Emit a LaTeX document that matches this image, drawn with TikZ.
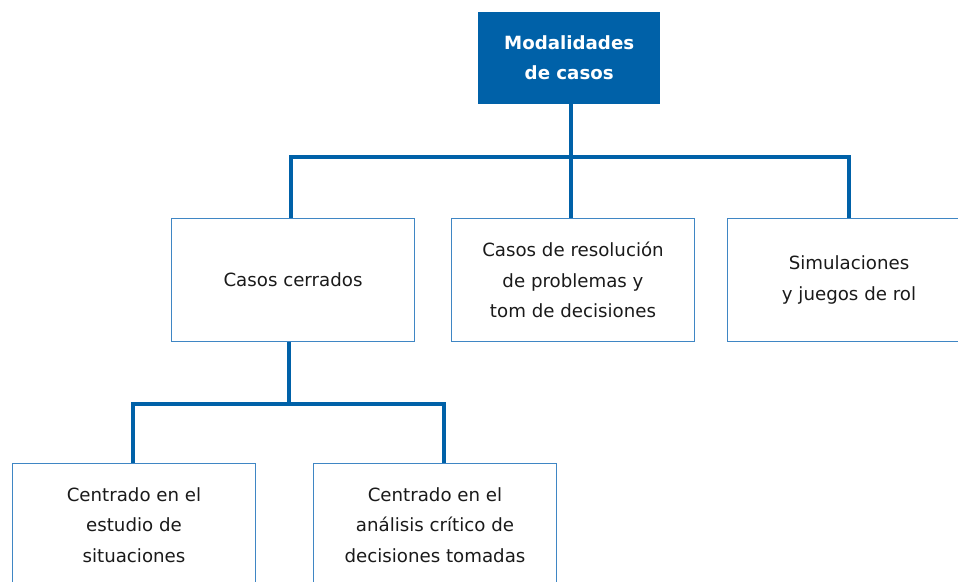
\documentclass[tikz,border=0pt]{standalone}
\usepackage{fontspec}
\setmainfont{DejaVu Sans}
\definecolor{mainblue}{HTML}{0061A8}
\definecolor{boxline}{HTML}{3F86C4}
\definecolor{txt}{HTML}{1A1A1A}
\begin{document}
\begin{tikzpicture}[x=1pt,y=-1pt,
  leaf/.style={draw=boxline, line width=1pt, fill=white, minimum width=243pt, minimum height=123pt,
    inner sep=0pt, align=center, text=txt, font=\fontsize{18.2}{30.5}\selectfont, anchor=north west},
  headbox/.style={fill=mainblue, minimum width=182pt, minimum height=92pt, inner sep=0pt,
    align=center, text=white, font=\bfseries\fontsize{18.2}{30}\selectfont, anchor=north west},
  conn/.style={draw=mainblue, line width=4pt}]
\useasboundingbox (0,0) rectangle (958,581);
\node[headbox] (top) at (478,12) {Modalidades\\ de casos};
\node[leaf] (b1) at (171,218) {Casos cerrados};
\node[leaf] (b2) at (451,218) {Casos de resolución\\de problemas y\\tom de decisiones};
\node[leaf] (b3) at (727,218) {Simulaciones\\y juegos de rol};
\node[leaf] (b4) at (12,463) {Centrado en el\\estudio de\\situaciones};
\node[leaf] (b5) at (313,463) {Centrado en el\\análisis crítico de\\decisiones tomadas};
\coordinate (j1) at (571,157);
\coordinate (j2) at (289,404);
\draw[conn] (top.south -| j1) -- (j1);
\draw[conn] (b1.north -| 291,0) |- (j1) -| (b3.north -| 849,0);
\draw[conn] (j1) -- (b2.north -| j1);
\draw[conn] (b1.south -| j2) -- (j2);
\draw[conn] (b4.north -| 133,0) |- (j2) -| (b5.north -| 444,0);
\end{tikzpicture}
\end{document}
